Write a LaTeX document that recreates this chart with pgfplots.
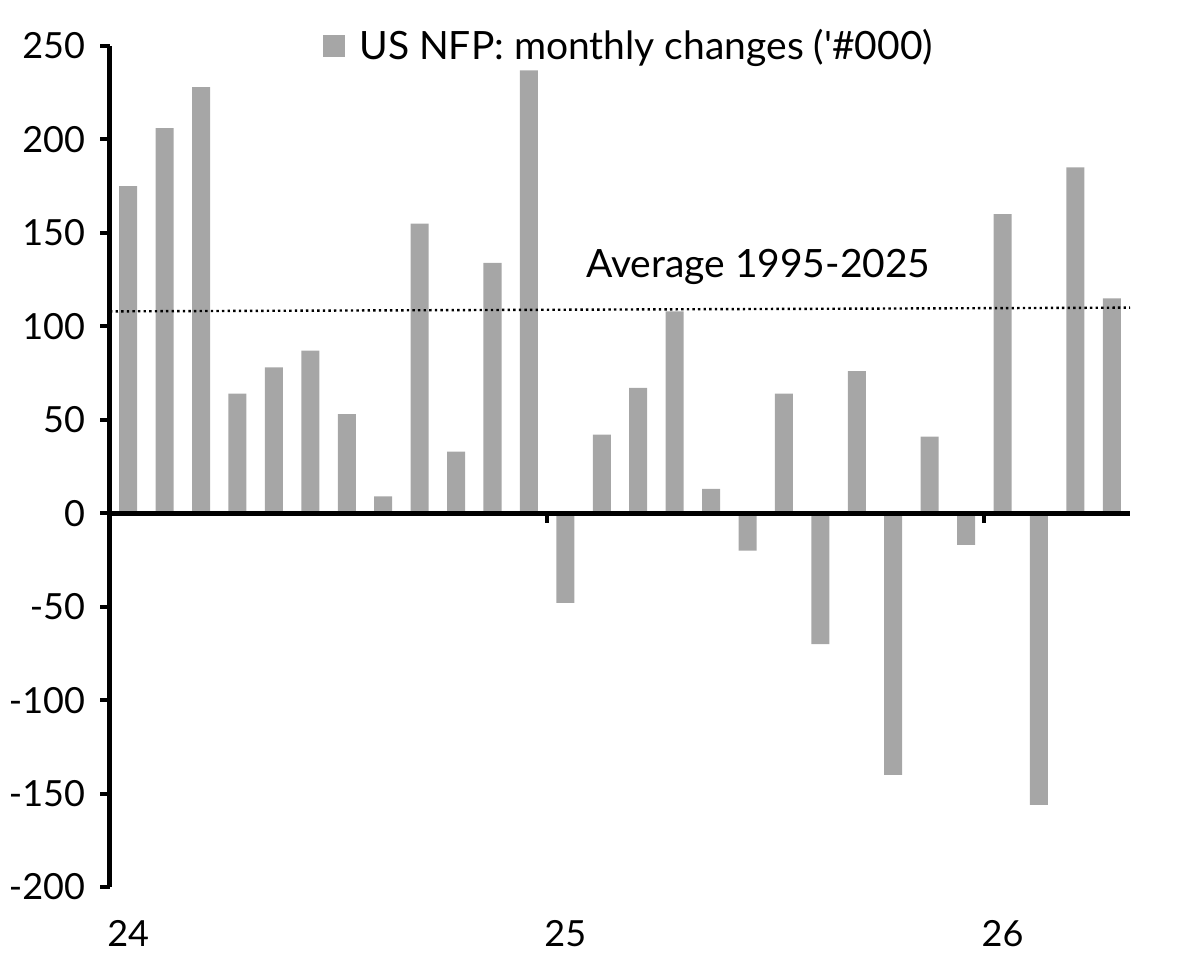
\documentclass[border=0pt]{standalone}
\usepackage{fontspec}
\setmainfont{Lato}
\usepackage{pgfplots}
\pgfplotsset{compat=1.18}
\definecolor{bargray}{HTML}{A6A6A6}

% monthly changes in US non-farm payrolls, Jan 2024 onwards (thousands)
\pgfplotstableread{
idx val
0 175
1 206
2 228
3 64
4 78
5 87
6 53
7 9
8 155
9 33
10 134
11 237
12 -48
13 42
14 67
15 108
16 13
17 -20
18 64
19 -70
20 76
21 -140
22 41
23 -17
24 160
25 -156
26 185
27 115
}\nfp

\begin{document}
\begin{tikzpicture}[font=\fontsize{18}{22}\selectfont]
\begin{axis}[
  name=ax,
  scale only axis,
  width=510pt, height=420.5pt,
  xmin=-0.5, xmax=27.5,
  ymin=-200, ymax=250,
  clip=false,
  axis x line*=bottom, axis y line*=left,
  axis line style={draw=none},
  xtick={0,12,24}, xticklabels={24,25,26},
  xtick style={draw=none},
  xticklabel style={yshift=-8pt},
  ytick={-200,-150,-100,-50,0,50,100,150,200,250},
  yticklabels={-200,-150,-100,-50,0,50,100,150,200,250},
  ytick style={draw=none},
  yticklabel style={xshift=-4pt},
  tick align=outside,
  major tick length=5pt,
  legend style={draw=none, fill=none, at={(0.51,1)}, anchor=center,
    font=\fontsize{19.5}{23}\selectfont, inner sep=0pt},
  legend image code/.code={\fill[bargray] (0pt,-5.5pt) rectangle (11pt,5.5pt);
    \path (16pt,0pt);},
]
\addplot[ybar, bar width=9pt, fill=bargray, draw=none] table[x=idx, y=val] {\nfp};
\addlegendentry{US NFP: monthly changes (\textquotesingle\#000)}
\addplot[forget plot, black, line width=1.2pt, dash pattern=on 1.2pt off 1.6pt]
  coordinates {(-0.5,108) (27.5,110)};
% axis lines and tick marks
\draw[line width=2.5pt] (axis cs:-0.5,-200) -- (axis cs:-0.5,250);
\draw[line width=2.5pt] (axis cs:-0.5,0) -- (axis cs:27.5,0);
\pgfplotsinvokeforeach{-200,-150,-100,-50,0,50,100,150,200,250}{
  \draw[line width=2pt] (axis cs:-0.5,#1) -- ([xshift=-5pt]axis cs:-0.5,#1);
}
\draw[line width=2pt] (axis cs:11.5,0) -- ([yshift=-5pt]axis cs:11.5,0);
\draw[line width=2pt] (axis cs:23.5,0) -- ([yshift=-5pt]axis cs:23.5,0);
\node[font=\fontsize{19.5}{23}\selectfont] at (axis cs:17.3,132) {Average 1995-2025};
\end{axis}
\path (ax.south west) ++(-55pt,-37.5pt) rectangle ++(598pt,481pt);
\end{tikzpicture}
\end{document}
